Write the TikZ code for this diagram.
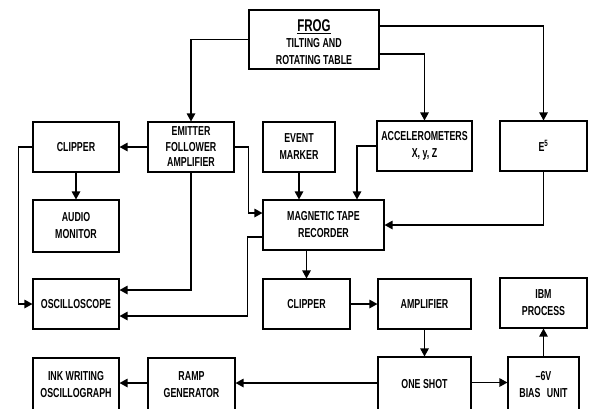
\documentclass[tikz,border=0pt]{standalone}
\usepackage{fontspec}
\setmainfont{Liberation Sans}[FakeStretch=0.68]
\usetikzlibrary{arrows.meta}
\tikzset{
  blk/.style={draw, line width=1.1pt, rectangle, inner sep=0pt, align=center,
    font=\bfseries\fontsize{13}{17}\selectfont},
  arr/.style={line width=1.2pt, -{Triangle[length=8pt,width=8.5pt]}}
}
\begin{document}
\begin{tikzpicture}[x=1pt,y=-1pt]
\useasboundingbox (0,0) rectangle (589,408);
% row 0
\node[blk, minimum width=130pt, minimum height=59pt] (frog) at (314,39.5)
  {\rule{0pt}{18pt}{\fontsize{17}{18}\selectfont\underline{FROG}}\\[-1pt]TILTING AND\\ROTATING TABLE};
% row 1
\node[blk, minimum width=86pt, minimum height=50pt] (clip1) at (76,147) {CLIPPER};
\node[blk, minimum width=86pt, minimum height=50pt] (efa) at (191,147) {EMITTER\\[-1.5pt]FOLLOWER\\[-1.5pt]AMPLIFIER};
\node[blk, minimum width=72pt, minimum height=50pt] (event) at (299,147) {EVENT\\MARKER};
\node[blk, minimum width=95pt, minimum height=50pt] (acc) at (424.5,146) {ACCELEROMETERS\\X, y, Z};
\node[blk, minimum width=87pt, minimum height=50pt] (ebox) at (543.5,146) {E\textsuperscript{5}};
% row 2
\node[blk, minimum width=86pt, minimum height=52pt] (audio) at (76,226) {AUDIO\\MONITOR};
\node[blk, minimum width=121pt, minimum height=50pt] (mtr) at (323.5,225) {MAGNETIC TAPE\\RECORDER};
% row 3
\node[blk, minimum width=86pt, minimum height=50pt] (osc) at (76,304) {OSCILLOSCOPE};
\node[blk, minimum width=87pt, minimum height=50pt] (clip2) at (306.5,304) {CLIPPER};
\node[blk, minimum width=93pt, minimum height=50pt] (amp) at (424.5,304) {AMPLIFIER};
\node[blk, minimum width=87pt, minimum height=50pt] (ibm) at (543.5,303) {IBM\\PROCESS};
% row 4
\node[blk, minimum width=86pt, minimum height=54pt] (ink) at (76,385) {INK WRITING\\OSCILLOGRAPH};
\node[blk, minimum width=87pt, minimum height=54pt] (ramp) at (191.5,385) {RAMP\\GENERATOR};
\node[blk, minimum width=93pt, minimum height=55pt] (one) at (424.5,384.5) {ONE SHOT};
\node[blk, minimum width=71pt, minimum height=55pt] (bias) at (543.5,384.5) {–6V\\BIAS\enspace UNIT};
% connectors
\draw[arr] (frog.west) -| (efa.north);
\draw[arr] ([yshift=13.5pt]frog.east) -| (ebox.north);
\draw[arr] ([yshift=-14.5pt]frog.east) -| (acc.north);
\draw[arr] (efa.west) -- (clip1.east);
\draw[arr] (clip1.west) -- ++(-14,0) |- (osc.west);
\draw[arr] (clip1.south) -- (audio.north);
\draw[arr] (efa.south) |- ([yshift=14pt]osc.east);
\draw[arr] (efa.east) -- ++(14,0) |- ([yshift=12pt]mtr.west);
\draw[arr] ([yshift=-12pt]mtr.west) -- ++(-15,0) |- ([yshift=-12pt]osc.east);
\draw[arr] (event.south) -- (event.south |- mtr.north);
\draw[arr] (acc.west) -| ([xshift=33.5pt]mtr.north);
\draw[arr] (ebox.south) |- (mtr.east);
\draw[arr] (clip2.north |- mtr.south) -- (clip2.north);
\draw[arr] (clip2.east) -- (amp.west);
\draw[arr] (amp.south) -- (one.north);
\draw[arr] ([yshift=2pt]one.east) -- ([yshift=2pt]one.east -| bias.west);
\draw[arr] (bias.north) -- (ibm.south);
\draw[arr] ([yshift=1.5pt]one.west) -- ([yshift=1.5pt]one.west -| ramp.east);
\draw[arr] ([yshift=2pt]ramp.west) -- ([yshift=2pt]ramp.west -| ink.east);
\end{tikzpicture}
\end{document}
